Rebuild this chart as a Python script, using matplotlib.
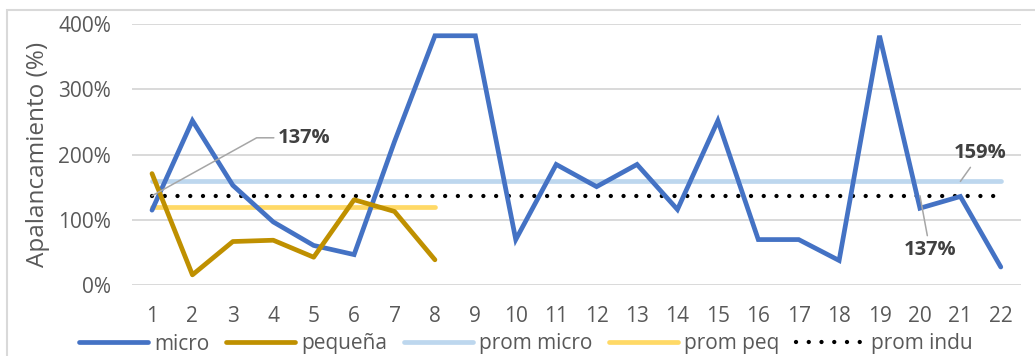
import matplotlib
matplotlib.use("Agg")
import matplotlib.pyplot as plt
from matplotlib.patches import Rectangle

# Data
empresas = list(range(1, 23))
micro = [115, 252, 153, 97, 61, 47, 220, 382, 382, 70, 185, 151, 185, 116,
         252, 70, 70, 38, 382, 118, 136, 28]
pequena = [171, 16, 67, 69, 43, 131, 113, 39]
prom_micro = 159
prom_peq = 120
prom_indu = 137
y_ticks = [0, 100, 200, 300, 400]
y_tick_labels = ["0%", "100%", "200%", "300%", "400%"]

plt.rcParams["font.family"] = ["Open Sans", "DejaVu Sans"]

W, H = 1035, 356
fig = plt.figure(figsize=(W / 100, H / 100), dpi=100)
ax = fig.add_axes([131.8 / W, 1 - 285.3 / H, (1021 - 131.8) / W, (285.3 - 24) / H])

c_micro = "#4472C4"
c_peq = "#BF9000"
c_pmicro = "#BDD7EE"
c_ppeq = "#FFD966"

ax.plot(empresas, micro, color=c_micro, lw=3.4, solid_joinstyle="miter",
        solid_capstyle="round", label="micro", zorder=3)
ax.plot(empresas[:len(pequena)], pequena, color=c_peq, lw=3.4,
        solid_capstyle="round", label="pequeña", zorder=3)
ax.plot(empresas, [prom_micro] * len(empresas), color=c_pmicro, lw=3.4,
        solid_capstyle="round", label="prom micro", zorder=2)
ax.plot(empresas[:len(pequena)], [prom_peq] * len(pequena), color=c_ppeq, lw=3.4,
        solid_capstyle="round", label="prom peq", zorder=2)
ax.plot(empresas, [prom_indu] * len(empresas), color="black", lw=3.1,
        linestyle=(0, (0.01, 2.95)), dash_capstyle="round", label="prom indu", zorder=2)

ax.set_xlim(0.5, 22.5)
ax.set_ylim(0, 400)
ax.set_yticks(y_ticks)
ax.set_yticklabels(y_tick_labels)
ax.set_xticks(empresas)
ax.grid(axis="y", color="#D9D9D9", lw=1.4)
ax.set_axisbelow(True)
for s in ax.spines.values():
    s.set_visible(False)
ax.tick_params(length=0, labelsize=15, colors="#595959")
ax.tick_params(axis="y", pad=15)
ax.tick_params(axis="x", pad=15)
ax.set_ylabel("Apalancamiento (%)", fontsize=17.5, color="#595959", labelpad=6)

lbl = dict(fontsize=14.5, fontweight="bold", color="#404040")
leader = dict(arrowstyle="-", color="#A6A6A6", lw=1.1, shrinkA=1, shrinkB=0)

ax.annotate(f"{prom_indu}%", xy=(1, prom_indu), xytext=(126, 58),
            textcoords="offset pixels", ha="left", va="center",
            arrowprops=dict(leader, connectionstyle="angle,angleA=0,angleB=29,rad=0"),
            **lbl)
ax.annotate(f"{prom_micro}%", xy=(21, prom_micro), xytext=(20, 28),
            textcoords="offset pixels", ha="center", va="center",
            arrowprops=leader, **lbl)
ax.annotate(f"{prom_indu}%", xy=(20, prom_indu), xytext=(10, -54),
            textcoords="offset pixels", ha="center", va="center",
            arrowprops=leader, **lbl)

handles, labels = ax.get_legend_handles_labels()
fig.legend(handles, labels, loc="center", bbox_to_anchor=(526 / W, 1 - 344 / H),
           ncol=5, frameon=False, fontsize=15, labelcolor="#595959",
           handlelength=3.3, handletextpad=0.3, columnspacing=0.8,
           borderaxespad=0, borderpad=0)

fig.patches.append(Rectangle((7 / W, -0.5), 2, (1 - 10 / H) + 0.5,
                             transform=fig.transFigure, fill=False,
                             edgecolor="#D9D9D9", lw=1.5))

fig.savefig("out.png", dpi=100, facecolor="white")
